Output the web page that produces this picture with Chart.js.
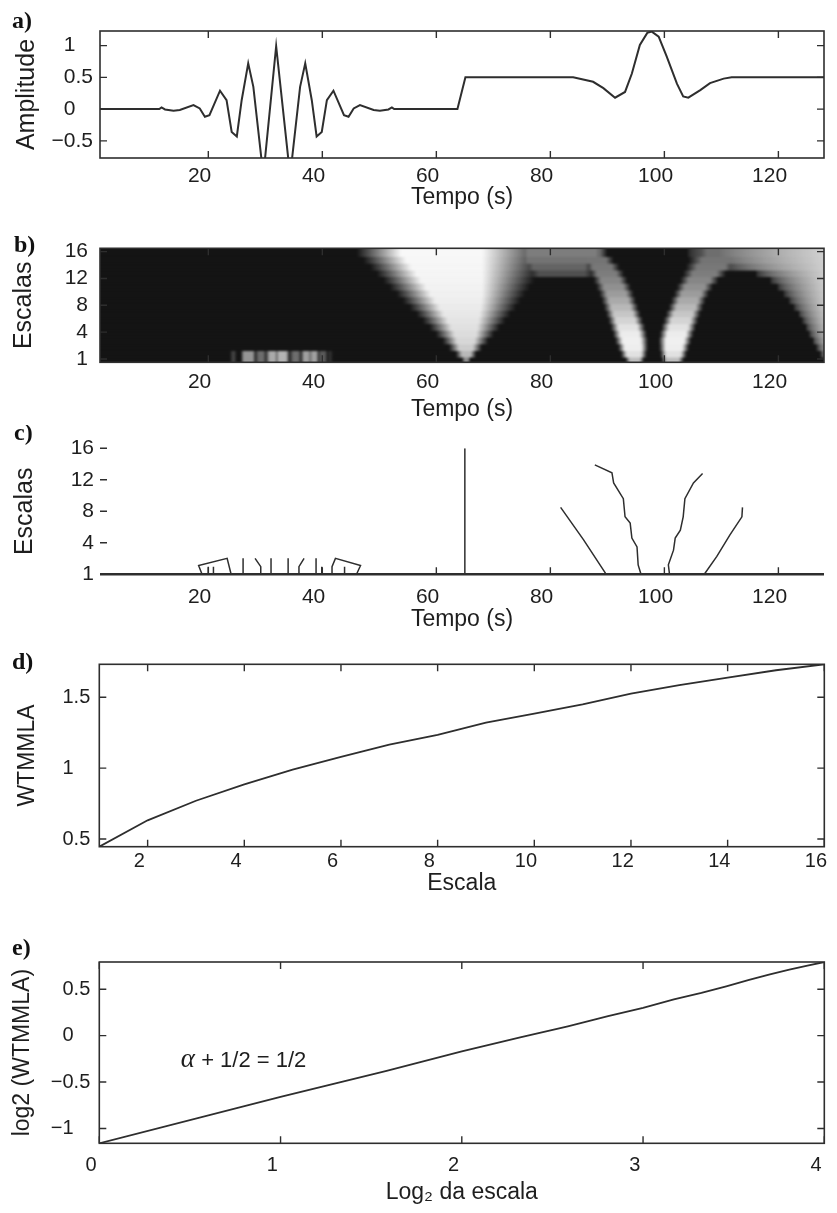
<!DOCTYPE html>
<html>
<head>
<meta charset="utf-8">
<title>WTMM</title>
<script src="https://cdn.jsdelivr.net/npm/chart.js@4/dist/chart.umd.min.js"></script>
<style>
  body { margin: 0; background: #fff; }
  #quadro { position: relative; width: 837px; height: 1213px; overflow: hidden; }
  #quadro canvas { position: absolute; left: 0; }
</style>
</head>
<body>
<div id="quadro">
  <canvas id="sinal" width="837" height="222" style="top:0px"></canvas>
  <canvas id="escalograma" width="837" height="203" style="top:222px"></canvas>
  <canvas id="maximos" width="837" height="215" style="top:425px"></canvas>
  <canvas id="wtmm" width="837" height="275" style="top:640px"></canvas>
  <canvas id="loglog" width="837" height="298" style="top:915px"></canvas>
</div>
<script>
// ---- a) sinal de teste ----
const tempo = [1, 11.4, 11.8, 12.4, 13.9, 15, 17.4, 18.5, 19.4, 20.2, 22.05, 23.2, 24.1, 25, 25.85, 27, 27.9, 29.65, 31.9,
  34.35, 36.1, 37, 38.15, 39, 39.9, 40.8, 41.95, 43.8, 44.6, 45.5, 46.6, 49, 50.1, 51.6, 52.2, 52.6, 63.7, 65.1,
  84, 87.5, 89.3, 91.35, 93.1, 94.3, 95.7, 97, 97.8, 99, 100.4, 102.2, 103.3, 104.2, 106.3, 108, 110.4, 111.8, 128];
const amplitude = [0, 0, 0.026, -0.005, -0.025, -0.015, 0.063, 0.01, -0.12, -0.095, 0.29, 0.14, -0.36, -0.43, 0.14, 0.72, 0.35, -1.05, 0.99,
  -1.05, 0.35, 0.72, 0.14, -0.43, -0.36, 0.14, 0.29, -0.095, -0.12, 0.01, 0.063, -0.015, -0.025, -0.005, 0.026, 0, 0, 0.5,
  0.5, 0.43, 0.33, 0.18, 0.27, 0.56, 1.01, 1.2, 1.22, 1.14, 0.83, 0.4, 0.2, 0.18, 0.3, 0.41, 0.48, 0.5, 0.5];
const tempoTicks = [20, 40, 60, 80, 100, 120];
const ampTicks = [-0.5, 0, 0.5, 1];

// ---- b) escalograma: uma linha por escala, de baixo para cima ----
const hmEscalas = [1, 1.75, 2.5, 3.25, 4, 5, 6, 7, 8, 9, 10, 11, 12, 13, 14, 15, 16];
// cone do degrau em t = 65
const vIni     = [64.5, 63.4, 62.2, 61.1, 59.9, 58.8, 57.6, 56.5, 55.3, 54.1, 53.0, 51.8, 50.7, 49.5, 48.4, 47.2, 46.0];
const vPlatIni = [64.9, 64.5, 64.0, 63.6, 63.2, 62.6, 62.0, 61.3, 60.6, 59.8, 59.0, 58.2, 57.3, 56.5, 55.6, 54.7, 53.8];
const vPlatFim = [65.6, 66.0, 66.4, 66.7, 67.0, 67.2, 67.4, 67.6, 67.8, 67.9, 68.0, 68.0, 68.0, 68.0, 68.0, 68.0, 68.0];
const vFim     = [66.0, 67.0, 68.0, 69.1, 70.1, 71.1, 72.1, 73.0, 74.0, 74.8, 75.6, 76.4, 77.2, 78.0, 78.8, 79.5, 80.2];
const vCinza   = [140, 185, 205, 215, 220, 225, 228, 232, 235, 238, 240, 242, 244, 245, 246, 247, 248];
// lobos do pulso em t = 98
const loboAIni = [93.2, 92.4, 91.9, 91.4, 91.0, 90.6, 90.2, 89.8, 89.4, 89.0, 88.6, 88.1, 87.6, 86.9, 86.1, 85.0, 84.0];
const loboAFim = [96.4, 96.9, 97.1, 97.1, 96.9, 96.6, 96.2, 95.8, 95.4, 95.0, 94.6, 94.1, 93.5, 92.9, 92.1, 91.1, 90.0];
const loboBIni = [99.5, 99.3, 99.1, 99.0, 99.2, 99.5, 99.9, 100.3, 100.8, 101.2, 101.7, 102.2, 102.8, 103.3, 103.8, 104.2, 104.5];
const loboBFim = [103.4, 103.9, 104.3, 104.7, 105.1, 105.5, 105.9, 106.3, 106.8, 107.2, 107.8, 108.5, 109.5, 110.8, 112.6, 115.0, 118.0];
const loboCinza = [190, 225, 238, 240, 236, 226, 212, 198, 184, 170, 156, 144, 134, 125, 120, 116, 110];
// faixa da borda direita
const faixaIni   = [128, 127.4, 126.7, 126.0, 125.4, 124.8, 124.2, 123.5, 122.7, 121.8, 120.9, 119.8, 118.5, 116.0, 110.0, 106.0, 104.0];
const faixaCinza = [20, 110, 140, 160, 170, 178, 185, 190, 195, 198, 200, 202, 204, 205, 206, 207, 208];
// ligação cinza entre o cone e o lobo esquerdo nas escalas grandes
const caudaIni   = [0, 0, 0, 0, 0, 0, 0, 0, 0, 0, 0, 0, 0, 76, 75, 74, 74];
const caudaFim   = [0, 0, 0, 0, 0, 0, 0, 0, 0, 0, 0, 0, 0, 88, 88, 89, 90];
const caudaCinza = [0, 0, 0, 0, 0, 0, 0, 0, 0, 0, 0, 0, 0, 80, 100, 115, 125];
// coeficientes do pacote de ondas nas duas menores escalas
const ruidoT = [23.8, 24.4, 25.0, 25.8, 26.1, 27.9, 28.2, 28.8, 29.7, 30.1, 30.7, 31.8, 32.0, 32.3, 33.7, 34.2, 34.9, 35.8, 36.3,
  36.7, 37.6, 37.9, 38.2, 39.0, 39.3, 39.6, 40.5, 40.9, 41.4, 41.8];
const ruidoCinza = [20, 80, 20, 20, 150, 150, 30, 110, 110, 30, 170, 170, 90, 180, 180, 30, 110, 110, 30,
  160, 160, 90, 160, 160, 30, 90, 90, 20, 60, 20];
const escalaTicks = [1, 4, 8, 12, 16];

// ---- c) linhas de máximos ----
const maxT = [
  [18.9, 18.3, 23.3, 24.0], [20.0, 20.0], [20.9, 20.9], [26.1, 26.1], [29.2, 29.2, 28.2], [31.0, 31.0],
  [34.0, 34.0], [35.9, 35.9, 36.8], [38.9, 38.9], [39.9, 39.9], [41.7, 41.7, 42.3, 46.7, 46.0], [43.9, 43.9],
  [65, 65],
  [81.8, 85.8, 89.8],
  [87.8, 90.8, 91.1, 92.8, 93.1, 94.0, 94.3, 95.2, 95.4, 95.9],
  [100.9, 100.7, 101.6, 101.9, 102.8, 103.3, 103.6, 105.1, 106.7],
  [107.0, 109.2, 111.5, 113.6, 113.7]
];
const maxEscala = [
  [1, 1.83, 2.52, 1], [1, 1.73], [1, 1.73], [1, 2.52], [1, 1.73, 2.52], [1, 2.52],
  [1, 2.52], [1, 1.73, 2.52], [1, 2.52], [1, 1.73], [1, 1.73, 2.52, 1.83, 1], [1, 1.73],
  [1, 16],
  [8.5, 4.4, 1],
  [13.9, 12.9, 11.6, 9.6, 7.3, 6.5, 4.6, 3.6, 1.9, 1],
  [1, 1.9, 3.3, 4.6, 5.6, 7.3, 9.6, 11.6, 12.8],
  [1, 2.7, 5.0, 7.3, 8.5]
];

// ---- d) WTMMLA x escala ----
const escala = [1, 2, 3, 4, 5, 6, 7, 8, 9, 10, 11, 12, 13, 14, 15, 16];
const wtmmla = [0.446, 0.632, 0.77, 0.885, 0.99, 1.08, 1.165, 1.235, 1.32, 1.385, 1.45, 1.525, 1.585, 1.638, 1.69, 1.732];
const escalaTicksD = [2, 4, 6, 8, 10, 12, 14, 16];
const wtmmTicks = [0.5, 1, 1.5];

// ---- e) log-log ----
const log2Escala = [0, 1, 1.585, 2, 2.322, 2.585, 2.807, 3, 3.17, 3.322, 3.459, 3.585, 3.7, 3.807, 3.907, 4];
const log2Wtmmla = [-1.16, -0.66, -0.38, -0.17, -0.02, 0.1, 0.21, 0.3, 0.39, 0.46, 0.53, 0.6, 0.66, 0.71, 0.755, 0.793];
const log2Ticks = [0, 1, 2, 3, 4];
const log2WTicks = [-1, -0.5, 0, 0.5];

Chart.defaults.font.family = "'Liberation Sans', Arial, sans-serif";
Chart.defaults.color = '#1e1e1e';
Chart.defaults.animation = false;
Chart.defaults.events = [];
Chart.defaults.plugins.legend.display = false;
Chart.defaults.plugins.tooltip.enabled = false;

const TINTA = '#2e2e2e';
const FUNDO = 20;

// escalas 1,4,8,12,16 ficam igualmente espaçadas no eixo
function nivel(s) {
  return s <= 4 ? (s - 1) / 3 : s / 4;
}

// "1" ocupa a mesma largura que "0.5" (rótulos alinhados como no MATLAB)
function fmt(v) {
  const txt = (v < 0 ? '\u2212' : '') + Math.abs(v);
  return Number.isInteger(v) ? txt + '\u2008\u2007' : txt;
}

function eixo(pos, o) {
  return {
    type: 'linear',
    position: pos,
    min: o.min,
    max: o.max,
    offset: false,
    grid: { display: false, drawTicks: false },
    border: { display: false },
    afterBuildTicks: s => { s.ticks = o.ticks.map(v => ({ value: v })); },
    afterFit: s => {
      // área do gráfico fixa: rótulos nas pontas não empurram a caixa
      s.paddingLeft = s.paddingRight = s.paddingTop = s.paddingBottom = 0;
      if (pos === 'left') s.width = o.size; else s.height = o.size;
    },
    ticks: {
      autoSkip: false,
      maxRotation: 0,
      padding: o.pad,
      font: { size: o.fs },
      callback: (v, i) => o.labels ? o.labels[i] : fmt(v)
    },
    title: {
      display: true,
      text: o.title,
      font: { size: o.tfs },
      padding: pos === 'left' ? { top: o.tpad, bottom: 0 } : { top: 0, bottom: o.tpad }
    }
  };
}

// caixa, marcas para dentro e letra do painel
const moldura = {
  id: 'moldura',
  beforeDatasetsDraw(chart, args, o) {
    if (!o.fundo) return;
    const a = chart.chartArea;
    chart.ctx.fillStyle = o.fundo;
    chart.ctx.fillRect(a.left, a.top, a.width, a.height);
    // suaviza a passagem entre as linhas do escalograma
    if (o.desfoque) chart.ctx.filter = 'blur(' + o.desfoque + 'px)';
  },
  afterDatasetsDraw(chart, args, o) {
    const { ctx, chartArea: a, scales: { x, y } } = chart;
    ctx.filter = 'none';
    const L = 7;
    ctx.save();
    ctx.strokeStyle = TINTA;
    ctx.lineWidth = 1.4;
    ctx.beginPath();
    x.ticks.forEach(t => {
      const px = x.getPixelForValue(t.value);
      ctx.moveTo(px, a.bottom); ctx.lineTo(px, a.bottom - L);
      if (o.caixa) { ctx.moveTo(px, a.top); ctx.lineTo(px, a.top + L); }
    });
    y.ticks.forEach(t => {
      const py = y.getPixelForValue(t.value);
      ctx.moveTo(a.left, py); ctx.lineTo(a.left + L, py);
      if (o.caixa) { ctx.moveTo(a.right, py); ctx.lineTo(a.right - L, py); }
    });
    ctx.stroke();
    if (o.caixa) {
      ctx.lineWidth = 1.6;
      ctx.strokeRect(a.left, a.top, a.width, a.height);
    } else {
      ctx.lineWidth = 2.6;
      ctx.beginPath();
      ctx.moveTo(a.left, a.bottom); ctx.lineTo(a.right, a.bottom);
      ctx.stroke();
    }
    ctx.fillStyle = '#111';
    ctx.font = "bold 24px 'Liberation Serif'";
    ctx.textBaseline = 'alphabetic';
    ctx.fillText(o.letra, o.lx, o.ly);
    ctx.restore();
  }
};

function linha(xs, ys, w) {
  return {
    data: xs.map((v, i) => ({ x: v, y: ys[i] })),
    showLine: true,
    borderColor: TINTA,
    borderWidth: w,
    pointRadius: 0,
    tension: 0,
    clip: 0
  };
}

// a) sinal
new Chart(document.getElementById('sinal'), {
  type: 'scatter',
  data: { datasets: [linha(tempo, amplitude, 2)] },
  options: {
    responsive: false,
    layout: { padding: { top: 31, right: 13, left: 0, bottom: 0 } },
    scales: {
      x: eixo('bottom', { min: 1, max: 128, ticks: tempoTicks, size: 64, pad: 6, fs: 21, title: 'Tempo (s)', tfs: 23, tpad: 11 }),
      y: eixo('left', { min: -0.77, max: 1.23, ticks: ampTicks, size: 100, pad: 7, fs: 21, title: 'Amplitude', tfs: 25, tpad: 12 })
    },
    plugins: { moldura: { caixa: true, letra: 'a)', lx: 12, ly: 28 } }
  },
  plugins: [moldura]
});

// b) escalograma
function brilhoRampa(t, a, b, c, d, topo) {
  if (!(topo > FUNDO) || t <= a || t >= d) return FUNDO;
  let f = 1;
  if (t < b) f = (t - a) / (b - a);
  else if (t > c) f = (d - t) / (d - c);
  return FUNDO + (topo - FUNDO) * f;
}

function brilho(i, t) {
  let g = FUNDO;
  g = Math.max(g, brilhoRampa(t, vIni[i], vPlatIni[i], vPlatFim[i], vFim[i], vCinza[i]));
  const wa = loboAFim[i] - loboAIni[i];
  g = Math.max(g, brilhoRampa(t, loboAIni[i], loboAIni[i] + 0.22 * wa, loboAFim[i] - 0.22 * wa, loboAFim[i], loboCinza[i]));
  const wb = loboBFim[i] - loboBIni[i];
  g = Math.max(g, brilhoRampa(t, loboBIni[i], loboBIni[i] + 0.22 * wb, loboBFim[i] - 0.22 * wb, loboBFim[i], loboCinza[i]));
  g = Math.max(g, brilhoRampa(t, caudaIni[i], caudaIni[i] + 2, caudaFim[i] - 2, caudaFim[i], caudaCinza[i]));
  if (t > faixaIni[i]) {
    g = Math.max(g, FUNDO + (faixaCinza[i] - FUNDO) * Math.sqrt((t - faixaIni[i]) / (128 - faixaIni[i])));
  }
  if (i < 2 && t > ruidoT[0] && t < ruidoT[ruidoT.length - 1]) {
    let k = 1;
    while (ruidoT[k] < t) k++;
    const f = (t - ruidoT[k - 1]) / (ruidoT[k] - ruidoT[k - 1]);
    g = Math.max(g, ruidoCinza[k - 1] + (ruidoCinza[k] - ruidoCinza[k - 1]) * f);
  }
  return g;
}

function gradienteLinha(ctx) {
  const chart = ctx.chart;
  const x = chart.scales.x;
  if (!chart.chartArea || !x || ctx.dataIndex === undefined) return 'rgb(20,20,20)';
  const g = chart.ctx.createLinearGradient(x.getPixelForValue(1), 0, x.getPixelForValue(128), 0);
  for (let k = 0; k <= 508; k++) {
    const t = 1 + k * 0.25;
    const v = Math.round(brilho(ctx.dataIndex, t));
    g.addColorStop(Math.min(1, (t - 1) / 127), 'rgb(' + v + ',' + v + ',' + v + ')');
  }
  return g;
}

new Chart(document.getElementById('escalograma'), {
  type: 'bar',
  data: {
    datasets: [{
      data: hmEscalas.map(s => ({ x: [1, 128], y: nivel(s) })),
      backgroundColor: gradienteLinha,
      borderWidth: 0,
      // as linhas se sobrepõem um pouco para a borda desfocada cair sobre a vizinha
      inflateAmount: 2,
      barPercentage: 1,
      categoryPercentage: 1
    }]
  },
  options: {
    responsive: false,
    indexAxis: 'y',
    layout: { padding: { top: 26.3, right: 13, left: 0, bottom: 0 } },
    scales: {
      x: eixo('bottom', { min: 1, max: 128, ticks: tempoTicks, size: 62.7, pad: 7, fs: 21, title: 'Tempo (s)', tfs: 23, tpad: 2 }),
      y: eixo('left', { min: -0.125, max: 4.125, ticks: escalaTicks.map(nivel), labels: escalaTicks, size: 100, pad: 12, fs: 21, title: 'Escalas', tfs: 25, tpad: 9 })
    },
    plugins: { moldura: { caixa: true, fundo: 'rgb(20,20,20)', desfoque: 1.3, letra: 'b)', lx: 14, ly: 30 } }
  },
  plugins: [moldura]
});

// c) linhas de máximos
new Chart(document.getElementById('maximos'), {
  type: 'scatter',
  data: { datasets: maxT.map((ts, k) => linha(ts, maxEscala[k].map(nivel), 1.5)) },
  options: {
    responsive: false,
    layout: { padding: { top: 23.3, right: 13, left: 0, bottom: 0 } },
    scales: {
      x: eixo('bottom', { min: 1, max: 128, ticks: tempoTicks, size: 65.7, pad: 10, fs: 21, title: 'Tempo (s)', tfs: 23, tpad: 7 }),
      y: eixo('left', { min: 0, max: 4, ticks: escalaTicks.map(nivel), labels: escalaTicks, size: 100, pad: 6, fs: 21, title: 'Escalas', tfs: 25, tpad: 10 })
    },
    plugins: { moldura: { caixa: false, letra: 'c)', lx: 14, ly: 15 } }
  },
  plugins: [moldura]
});

// d) WTMMLA em função da escala
new Chart(document.getElementById('wtmm'), {
  type: 'scatter',
  data: { datasets: [linha(escala, wtmmla, 1.8)] },
  options: {
    responsive: false,
    layout: { padding: { top: 24.3, right: 12.7, left: 0, bottom: 0 } },
    scales: {
      x: eixo('bottom', { min: 1, max: 16, ticks: escalaTicksD, size: 68.3, pad: 3, fs: 20, title: 'Escala', tfs: 23, tpad: 18 }),
      y: eixo('left', { min: Math.min(...wtmmla), max: Math.max(...wtmmla), ticks: wtmmTicks, size: 99.3, pad: 9, fs: 20, title: 'WTMMLA', tfs: 23, tpad: 14 })
    },
    plugins: { moldura: { caixa: true, letra: 'd)', lx: 12, ly: 29 } }
  },
  plugins: [moldura]
});

// e) log2 da WTMMLA contra log2 da escala
const nota = { texto: ' + 1/2 = 1/2', x: 0.45, y: -0.34 };
const anotacao = {
  id: 'anotacao',
  afterDatasetsDraw(chart) {
    const { ctx, scales: { x, y } } = chart;
    const px = x.getPixelForValue(nota.x), py = y.getPixelForValue(nota.y);
    ctx.save();
    ctx.fillStyle = '#1e1e1e';
    ctx.textBaseline = 'alphabetic';
    ctx.font = "italic 27px 'Liberation Serif'";
    ctx.fillText('\u03b1', px, py);
    const w = ctx.measureText('\u03b1').width;
    ctx.font = "22px 'Liberation Sans'";
    ctx.fillText(nota.texto, px + w, py);
    ctx.restore();
  }
};

new Chart(document.getElementById('loglog'), {
  type: 'scatter',
  data: { datasets: [linha(log2Escala, log2Wtmmla, 1.8)] },
  options: {
    responsive: false,
    layout: { padding: { top: 47, right: 12.7, left: 0, bottom: 0 } },
    scales: {
      x: eixo('bottom', { min: 0, max: 4, ticks: log2Ticks, size: 69.7, pad: 10, fs: 20, title: 'Log\u2082 da escala', tfs: 23, tpad: 7 }),
      y: eixo('left', { min: Math.min(...log2Wtmmla), max: Math.max(...log2Wtmmla), ticks: log2WTicks, size: 99.3, pad: 9, fs: 20, title: 'log2 (WTMMLA)', tfs: 23, tpad: 9 })
    },
    plugins: { moldura: { caixa: true, letra: 'e)', lx: 12, ly: 40 } }
  },
  plugins: [moldura, anotacao]
});
</script>
</body>
</html>
